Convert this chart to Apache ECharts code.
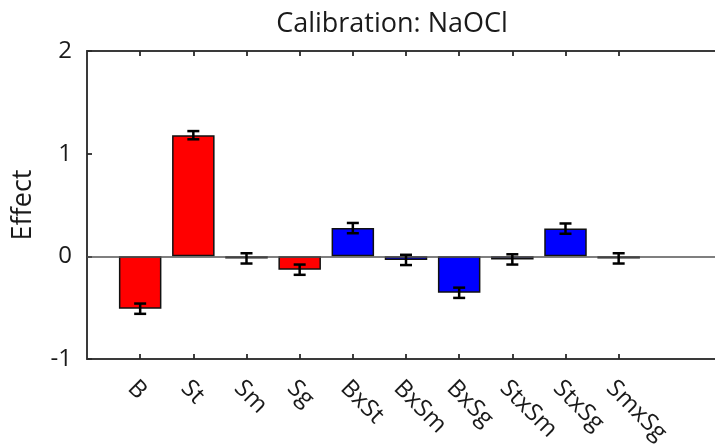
<!DOCTYPE html>
<html>
<head>
<meta charset="utf-8">
<script src="https://cdn.jsdelivr.net/npm/echarts@6/dist/echarts.min.js"></script>
<style>
  html, body { margin: 0; padding: 0; background: #fff; }
  #chart { width: 715px; height: 448px; }
</style>
</head>
<body>
<div id="chart"></div>
<script>
// Effect estimates for the NaOCl calibration model
const categories = ['B', 'St', 'Sm', 'Sg', 'BxSt', 'BxSm', 'BxSg', 'StxSm', 'StxSg', 'SmxSg'];
const effects = [-0.51, 1.18, -0.02, -0.13, 0.275, -0.035, -0.355, -0.03, 0.27, -0.02];
const errors = [0.05, 0.04, 0.05, 0.05, 0.05, 0.05, 0.05, 0.05, 0.05, 0.05];
const mainEffectCount = 4; // first four terms are main effects, the rest interactions
const yTicks = [-1, 0, 1, 2];

// terms sit at x = 1..10 on an x range of 0..12
const xRange = [0, 12];
const positions = categories.map((c, i) => i + 1);
const termAt = v => categories[v - 1] || '';

const FONT = '"Open Sans", "Noto Sans", sans-serif';
const AXIS_COLOR = '#3a3a3a';
const TICK_COLOR = '#2a2a2a';
const TEXT_COLOR = '#1a1a1a';

const barData = effects.map((v, i) => ({
  value: [positions[i], v],
  itemStyle: { color: i < mainEffectCount ? '#ff0000' : '#0000ff' }
}));
const errData = effects.map((v, i) => [positions[i], v, errors[i]]);

const chart = echarts.init(document.getElementById('chart'), null, { renderer: 'canvas' });

const xAxisBase = (pos) => ({
  type: 'value',
  min: xRange[0], max: xRange[1], interval: 1,
  position: pos,
  axisLine: { show: true, onZero: false, lineStyle: { color: AXIS_COLOR, width: 2 } },
  axisTick: {
    show: true, inside: true, length: 5, customValues: positions,
    lineStyle: { color: TICK_COLOR, width: 1.8 }
  },
  splitLine: { show: false }
});

chart.setOption({
  animation: false,
  backgroundColor: '#fff',
  title: {
    text: 'Calibration: NaOCl',
    left: 387, top: 6, textAlign: 'center',
    textStyle: { fontFamily: FONT, fontSize: 27, fontWeight: 'normal', color: TEXT_COLOR }
  },
  grid: { left: 87, right: -10, top: 51, bottom: 89, outerBoundsMode: 'none', containLabel: false },
  xAxis: [
    Object.assign(xAxisBase('bottom'), {
      axisLabel: {
        customValues: positions, formatter: termAt,
        showMinLabel: true, showMaxLabel: true, hideOverlap: false,
        rotate: -45, margin: 17,
        align: 'left', verticalAlign: 'top',
        fontFamily: FONT, fontSize: 24, color: TEXT_COLOR
      }
    }),
    Object.assign(xAxisBase('top'), { axisLabel: { show: false } })
  ],
  yAxis: {
    type: 'value',
    min: yTicks[0], max: yTicks[yTicks.length - 1], interval: 1,
    name: 'Effect', nameLocation: 'middle', nameGap: 50,
    nameTextStyle: { fontFamily: FONT, fontSize: 27, color: TEXT_COLOR },
    axisLine: { show: true, onZero: false, lineStyle: { color: AXIS_COLOR, width: 2 } },
    axisTick: { show: true, inside: true, length: 5, lineStyle: { color: TICK_COLOR, width: 1.8 } },
    axisLabel: { margin: 15, fontFamily: FONT, fontSize: 24, color: TEXT_COLOR },
    splitLine: { show: false }
  },
  series: [{
    type: 'bar',
    xAxisIndex: 0,
    data: barData,
    barWidth: 42.5,
    itemStyle: { borderColor: '#111', borderWidth: 1.5 },
    markLine: {
      silent: true, symbol: 'none', label: { show: false },
      lineStyle: { color: '#555', width: 1.5, type: 'solid' },
      data: [{ yAxis: 0 }]
    },
    z: 2
  }, {
    type: 'custom',
    xAxisIndex: 0,
    data: errData,
    z: 5,
    renderItem: function (params, api) {
      const x = api.value(0), v = api.value(1), e = api.value(2);
      const hi = api.coord([x, v + e]);
      const lo = api.coord([x, v - e]);
      const cap = 6;
      const style = { stroke: '#000', lineWidth: 2.5 };
      return {
        type: 'group',
        children: [
          { type: 'line', shape: { x1: hi[0], y1: hi[1], x2: lo[0], y2: lo[1] }, style: style },
          { type: 'line', shape: { x1: hi[0] - cap, y1: hi[1], x2: hi[0] + cap, y2: hi[1] }, style: style },
          { type: 'line', shape: { x1: lo[0] - cap, y1: lo[1], x2: lo[0] + cap, y2: lo[1] }, style: style }
        ]
      };
    }
  }]
});
</script>
</body>
</html>
